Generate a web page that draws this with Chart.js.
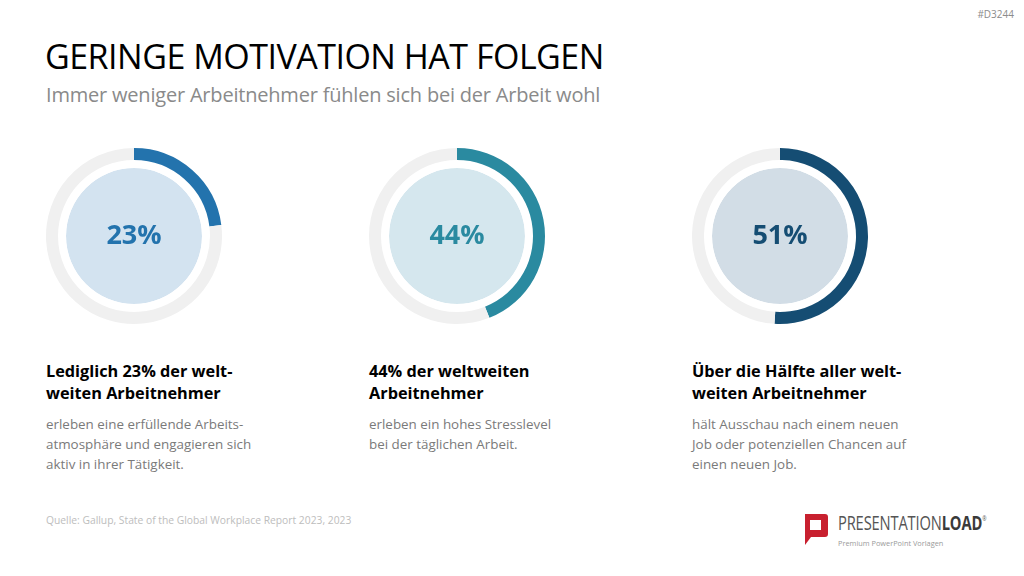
<!DOCTYPE html>
<html lang="de">
<head>
    <meta charset="UTF-8">
    <title>Geringe Motivation hat Folgen</title>
    <script src="https://cdn.jsdelivr.net/npm/chart.js"></script>
    <style>
        body { margin: 0; width: 1024px; height: 576px; background: #fff; font-family: "Open Sans", sans-serif; position: relative; overflow: hidden; }
        .tag { position: absolute; right: 10px; top: 7px; font-size: 10px; color: #8c8c8c; }
        h1 { position: absolute; left: 45px; top: 33px; margin: 0; font-size: 34px; font-weight: 400; color: #000; letter-spacing: -0.5px; }
        .sub { position: absolute; left: 46px; top: 81px; font-size: 20px; color: #8a8a8a; letter-spacing: -0.2px; }
        .ring { position: absolute; top: 146px; width: 180px; height: 180px; }
        .ring canvas { width: 180px; height: 180px; }
        .pct { position: absolute; left: 0; top: -2px; width: 180px; line-height: 180px; text-align: center; font-size: 27px; font-weight: 700; }
        .box { position: absolute; top: 360px; width: 240px; }
        .box h2 { margin: 0; font-size: 16.3px; line-height: 22px; font-weight: 700; color: #000; }
        .box p { margin: 10px 0 0; font-size: 13.4px; line-height: 20px; color: #7a7a7a; }
        .quelle { position: absolute; left: 46px; top: 513px; font-size: 10.3px; color: #bdbdbd; }
        .logo { position: absolute; left: 802px; top: 514px; }
        .logo .name { position: absolute; left: 36px; top: 0px; height: 18px; font-size: 20px; line-height: 18px; color: #555; white-space: nowrap; transform: scaleX(0.735); transform-origin: left top; letter-spacing: -0.2px; }
        .logo .name b { color: #3a3a3a; }
        .logo .name sup { font-size: 7px; line-height: 0; vertical-align: 9px; }
        .logo .claim { position: absolute; left: 36px; top: 24px; font-size: 8px; line-height: 10px; color: #9a9a9a; white-space: nowrap; transform: scaleX(0.92); transform-origin: left top; }
    </style>
</head>
<body>
    <div class="tag">#D3244</div>
    <h1>GERINGE MOTIVATION HAT FOLGEN</h1>
    <div class="sub">Immer weniger Arbeitnehmer fühlen sich bei der Arbeit wohl</div>

    <div class="ring" style="left: 44px;"><canvas id="ring0"></canvas><div class="pct" id="pct0"></div></div>
    <div class="ring" style="left: 367px;"><canvas id="ring1"></canvas><div class="pct" id="pct1"></div></div>
    <div class="ring" style="left: 690px;"><canvas id="ring2"></canvas><div class="pct" id="pct2"></div></div>

    <div class="box" style="left: 46px;">
        <h2>Lediglich 23% der welt-<br>weiten Arbeitnehmer</h2>
        <p>erleben eine erfüllende Arbeits-<br>atmosphäre und engagieren sich<br>aktiv in ihrer Tätigkeit.</p>
    </div>
    <div class="box" style="left: 369px;">
        <h2>44% der weltweiten<br>Arbeitnehmer</h2>
        <p>erleben ein hohes Stresslevel<br>bei der täglichen Arbeit.</p>
    </div>
    <div class="box" style="left: 692px;">
        <h2>Über die Hälfte aller welt-<br>weiten Arbeitnehmer</h2>
        <p>hält Ausschau nach einem neuen<br>Job oder potenziellen Chancen auf<br>einen neuen Job.</p>
    </div>

    <div class="quelle">Quelle: Gallup, State of the Global Workplace Report 2023, 2023</div>

    <div class="logo">
        <svg width="26" height="32" viewBox="0 0 26 32">
            <path d="M3 0 H23 Q26 0 26 3 V20 Q26 23 23 23 H9 L3 31 Z" fill="#c8202f"/>
            <rect x="8" y="6" width="11" height="10" fill="#fff"/>
        </svg>
        <div class="name">PRESENTATION<b>LOAD</b><sup>®</sup></div>
        <div class="claim">Premium PowerPoint Vorlagen</div>
    </div>

<script>
    // Werte der drei Ringe
    const werte = [23, 44, 51];
    const farben = ['#2373ad', '#2a8aa0', '#154d73'];
    const innenFarben = ['#d3e3f0', '#d5e7ee', '#d2dde6'];
    const spurFarbe = '#f0f0f0';

    function zeichneRing(i) {
        let ctx = document.getElementById('ring' + i);
        new Chart(ctx, {
            type: 'doughnut',
            data: {
                datasets: [
                    // aeusserer Ring: Wert + graue Spur
                    { data: [werte[i], 100 - werte[i]], backgroundColor: [farben[i], spurFarbe], borderWidth: 0, weight: 12 },
                    // weisser Abstand
                    { data: [100], backgroundColor: ['#ffffff'], borderWidth: 0, weight: 8 },
                    // gefuellte Innenflaeche
                    { data: [100], backgroundColor: [innenFarben[i]], borderWidth: 0, weight: 68 }
                ]
            },
            options: {
                responsive: false,
                animation: false,
                events: [],
                cutout: 0,
                radius: 88,
                plugins: { legend: { display: false }, tooltip: { enabled: false } }
            }
        });
        let pct = document.getElementById('pct' + i);
        pct.textContent = werte[i] + '%';
        pct.style.color = farben[i];
    }

    for (let i = 0; i < werte.length; i++) {
        zeichneRing(i);
    }
</script>
</body>
</html>
